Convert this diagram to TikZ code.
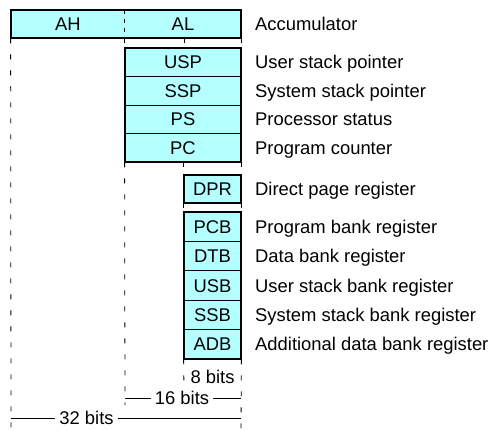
\documentclass[tikz,border=0pt]{standalone}
\usepackage{fontspec}
\setmainfont{Liberation Sans}
\definecolor{regfill}{RGB}{180,255,255}
\tikzset{
  txt/.style={font=\fontsize{18.4}{20}\selectfont, text height=13pt, text depth=0pt},
  cell/.style={txt, draw, line width=0.8pt, fill=regfill, inner sep=0pt},
  desc/.style={txt, anchor=west, inner sep=0pt},
  frame/.style={line width=2pt},
  guide/.style={line width=0.8pt, dash pattern=on 5pt off 11pt},
  dim/.style={txt, inner sep=4pt},
}
\begin{document}
\begin{tikzpicture}[x=1pt,y=-1pt]
  \useasboundingbox (0,0) rectangle (491,431);
  % accumulator
  \node[cell, draw=none, minimum width=114pt, minimum height=28pt] (ah) at (68,24) {AH};
  \node[cell, draw=none, minimum width=116pt, minimum height=28pt] (al) at (183,24) {AL};
  \draw[line width=0.8pt, dash pattern=on 4pt off 5pt] (al.north west) -- (al.south west);
  \draw[frame] (ah.north west) rectangle (al.south east);
  % 16-bit registers
  \node[cell, minimum width=116pt, minimum height=28.5pt] (usp) at (183,62.25) {USP};
  \node[cell, minimum width=116pt, minimum height=28.5pt] (ssp) at (183,90.75) {SSP};
  \node[cell, minimum width=116pt, minimum height=28.5pt] (ps) at (183,119.25) {PS};
  \node[cell, minimum width=116pt, minimum height=28.5pt] (pc) at (183,147.75) {PC};
  \draw[frame] (usp.north west) rectangle (pc.south east);
  % 8-bit registers
  \node[cell, minimum width=57pt, minimum height=28pt] (dpr) at (212.5,189) {DPR};
  \draw[frame] (dpr.north west) rectangle (dpr.south east);
  \node[cell, minimum width=57pt, minimum height=29.4pt] (pcb) at (212.5,226.7) {PCB};
  \node[cell, minimum width=57pt, minimum height=29.4pt] (dtb) at (212.5,256.1) {DTB};
  \node[cell, minimum width=57pt, minimum height=29.4pt] (usb) at (212.5,285.5) {USB};
  \node[cell, minimum width=57pt, minimum height=29.4pt] (ssb) at (212.5,314.9) {SSB};
  \node[cell, minimum width=57pt, minimum height=29.4pt] (adb) at (212.5,344.3) {ADB};
  \draw[frame] (pcb.north west) rectangle (adb.south east);
  % descriptions
  \node[desc] (accd) at (255,24) {Accumulator};
  \node[desc] (uspd) at (255,62.25) {User stack pointer};
  \node[desc] (sspd) at (255,90.75) {System stack pointer};
  \node[desc] (psd) at (255,119.25) {Processor status};
  \node[desc] (pcd) at (255,147.75) {Program counter};
  \node[desc] (dprd) at (255,189) {Direct page register};
  \node[desc] (pcbd) at (255,226.7) {Program bank register};
  \node[desc] (dtbd) at (255,256.1) {Data bank register};
  \node[desc] (usbd) at (255,285.5) {User stack bank register};
  \node[desc] (ssbd) at (255,314.9) {System stack bank register};
  \node[desc] (adbd) at (255,344.3) {Additional data bank register};
  % bit guides
  \coordinate (g32) at (11,431);
  \coordinate (g16) at (125,405);
  \coordinate (g8) at (184,388);
  \coordinate (g0) at (241,431);
  \draw[guide] (ah.south west) -- (g32);
  \draw[guide] (al.south west) -- (usp.north west);
  \draw[guide] (pc.south west) -- (g16);
  \draw[guide] (184,38) -- (184,48);
  \draw[guide] (241,38) -- (241,48);
  \draw[guide] (pc.south -| dpr.west) -- (dpr.north west);
  \draw[guide] (pc.south east) -- (dpr.north east);
  \draw[guide] (dpr.south west) -- (pcb.north west);
  \draw[guide] (dpr.south east) -- (pcb.north east);
  \draw[guide] (adb.south west) -- (g8);
  \draw[guide] (adb.south east) -- (g0);
  % widths
  \node[dim] (b8) at (212.5,377) {8 bits};
  \node[dim] (b16) at (182,398) {16 bits};
  \node[dim] (b32) at (86.5,418) {32 bits};
  \draw[line width=0.8pt] (125,398) -- (b16) -- (241,398);
  \draw[line width=0.8pt] (11,418) -- (b32) -- (241,418);
\end{tikzpicture}
\end{document}
